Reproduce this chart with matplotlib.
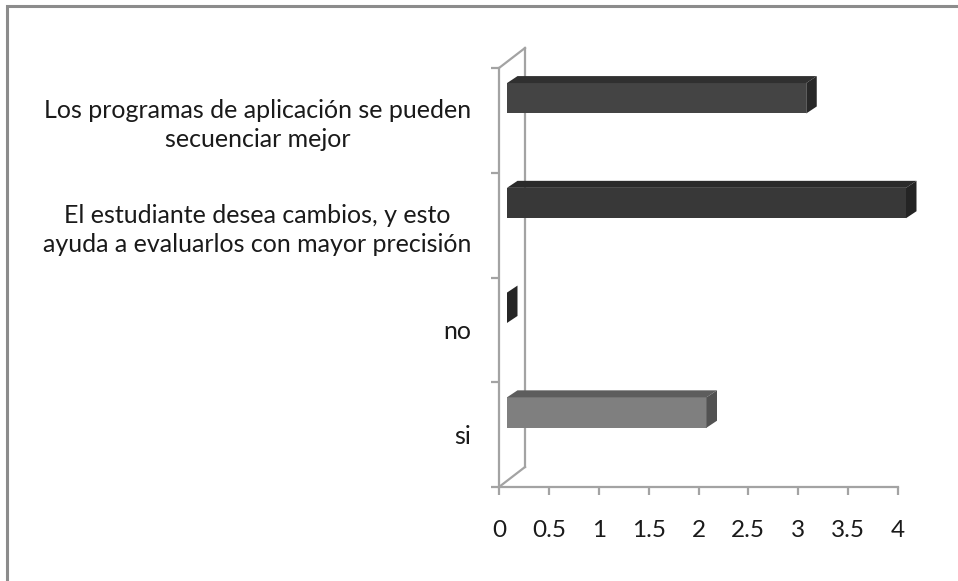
import matplotlib
matplotlib.use("Agg")
import matplotlib.pyplot as plt
from matplotlib.patches import Polygon, Rectangle

plt.rcParams['font.family'] = ['Lato', 'DejaVu Sans']

categories = ['si', 'no',
              'El estudiante desea cambios, y esto\nayuda a evaluarlos con mayor precisión',
              'Los programas de aplicación se pueden\nsecuenciar mejor']
values = [2, 0, 4, 3]
front_colors = ['#7f7f7f', '#3a3a3a', '#383838', '#444444']
top_colors = ['#5d5d5d', '#2c2c2c', '#2a2a2a', '#303030']
side_colors = ['#525252', '#262626', '#242424', '#282828']
xticks = [0, 0.5, 1, 1.5, 2, 2.5, 3, 3.5, 4]
xtick_labels = ['0', '0.5', '1', '1.5', '2', '2.5', '3', '3.5', '4']

W, H = 958, 581
fig = plt.figure(figsize=(W / 100, H / 100), dpi=100)
ax = fig.add_axes([499 / W, 1 - 487 / H, 399 / W, 419 / H])
ax.set_xlim(0, 4)
ax.set_ylim(0, len(categories))

ux = 399 / 4.0
uy = 419 / 4.0
wall_dx, wall_dy = 26 / ux, 20 / uy
bar_x0 = 8 / ux
bar_lo, bar_h = 0.066, 0.29
ddx, ddy = 10.5 / ux, 7 / uy
grey = '#a3a3a3'

# back wall
n = len(categories)
ax.plot([wall_dx, wall_dx], [wall_dy, n + wall_dy], color=grey, lw=1.6, clip_on=False, zorder=1)
ax.plot([0, wall_dx], [n, n + wall_dy], color=grey, lw=1.6, clip_on=False, zorder=1)
ax.plot([0, wall_dx], [0, wall_dy], color=grey, lw=1.6, clip_on=False, zorder=1)

# 3d bars
for i, v in enumerate(values):
    y0 = i + 0.5 + bar_lo
    y1 = y0 + bar_h
    x0 = bar_x0
    x1 = bar_x0 + v
    top = [(x0, y1), (x0 + ddx, y1 + ddy), (x1 + ddx, y1 + ddy), (x1, y1)]
    side = [(x1, y0), (x1, y1), (x1 + ddx, y1 + ddy), (x1 + ddx, y0 + ddy)]
    if v > 0:
        ax.add_patch(Rectangle((x0, y0), v, bar_h, facecolor=front_colors[i],
                               edgecolor='none', clip_on=False, zorder=3))
        ax.add_patch(Polygon(top, closed=True, facecolor=top_colors[i],
                             edgecolor='none', clip_on=False, zorder=3))
    ax.add_patch(Polygon(side, closed=True, facecolor=side_colors[i],
                         edgecolor='none', clip_on=False, zorder=3))

for s in ['top', 'right']:
    ax.spines[s].set_visible(False)
for s in ['left', 'bottom']:
    ax.spines[s].set_color(grey)
    ax.spines[s].set_linewidth(1.6)

ax.set_xticks(xticks)
ax.set_xticklabels(xtick_labels)
ax.tick_params(axis='x', length=6, width=1.6, color=grey, pad=18,
               labelsize=17.5, labelcolor='#1a1a1a')

ax.set_yticks(range(n + 1))
ax.set_yticklabels([])
ax.tick_params(axis='y', which='major', length=6, width=1.6, color=grey)
ax.set_yticks([i + 0.5 for i in range(n)], minor=True)
ax.set_yticklabels(categories, minor=True)
ax.tick_params(axis='y', which='minor', length=0, pad=20, labelsize=18,
               labelcolor='#1a1a1a')
for lbl in ax.get_yticklabels(minor=True):
    lbl.set_multialignment('center')
    lbl.set_linespacing(1.3)

# outer frame
fig.add_artist(Rectangle((7 / W, -0.05), 1.1, 1 - 6 / H + 0.05, transform=fig.transFigure,
                         fill=False, edgecolor='#8c8c8c', lw=2.2))

fig.savefig('out.png', dpi=100)
